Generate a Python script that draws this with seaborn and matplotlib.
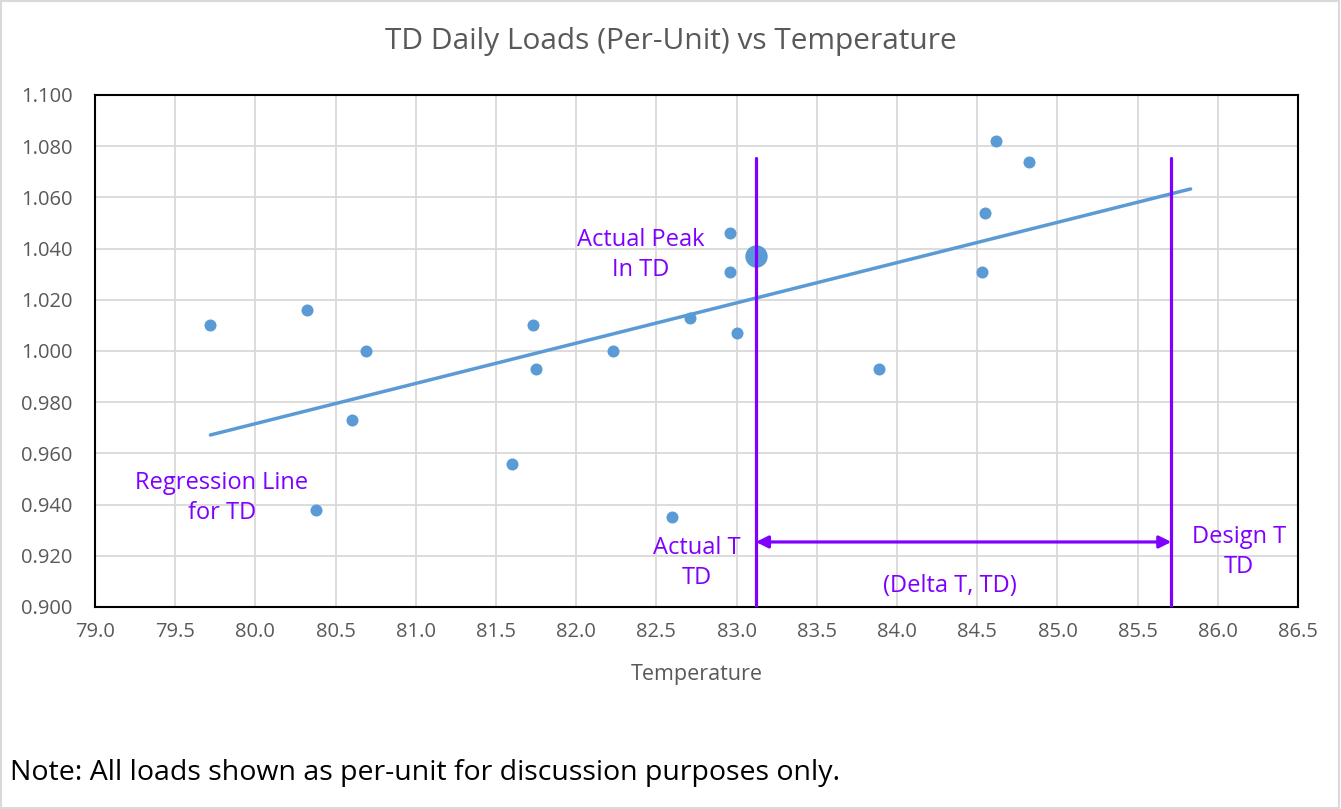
import matplotlib
matplotlib.use("Agg")
import matplotlib.pyplot as plt
import matplotlib.patches as mpatches
import pandas as pd
import seaborn as sns

# === Data ===
temps = [79.72, 80.32, 80.69, 80.60, 80.38, 81.60, 81.73, 81.75, 82.23, 82.60,
         82.71, 82.96, 82.96, 83.00, 83.89, 84.53, 84.55, 84.62, 84.82]
loads = [1.010, 1.016, 1.000, 0.973, 0.938, 0.956, 1.010, 0.993, 1.000, 0.935,
         1.013, 1.046, 1.031, 1.007, 0.993, 1.031, 1.054, 1.082, 1.074]

peak_temp = [83.12]
peak_load = [1.037]

reg_temp = [79.72, 85.83]
reg_load = [0.9672, 1.0633]

actual_t = 83.12
design_t = 85.71
vline_top = 1.0755
arrow_y = 0.9254

x_ticks = [79.0 + 0.5 * i for i in range(16)]
y_ticks = [0.900 + 0.020 * i for i in range(11)]

# === Style ===
sns.set_style("whitegrid")
plt.rcParams["font.family"] = ["Open Sans", "DejaVu Sans"]

BLUE = "#5B9BD5"
PURPLE = "#7F00FF"
GRAY = "#595959"

fig = plt.figure(figsize=(13.41, 8.09), dpi=100)
ax = fig.add_axes([0.0708, 0.2497, 0.8972, 0.6329])

df = pd.DataFrame({"Temperature": temps, "Load": loads})
df_reg = pd.DataFrame({"Temperature": reg_temp, "Load": reg_load})
df_peak = pd.DataFrame({"Temperature": peak_temp, "Load": peak_load})

sns.lineplot(data=df_reg, x="Temperature", y="Load", ax=ax, color=BLUE,
             linewidth=2.5, zorder=3)
sns.scatterplot(data=df, x="Temperature", y="Load", ax=ax, color=BLUE,
                s=75, linewidth=0, zorder=4)
sns.scatterplot(data=df_peak, x="Temperature", y="Load", ax=ax, color=BLUE,
                s=260, linewidth=0, zorder=4)

# vertical markers and delta arrow
ax.plot([actual_t, actual_t], [0.900, vline_top], color=PURPLE, lw=2.3, zorder=5)
ax.plot([design_t, design_t], [0.900, vline_top], color=PURPLE, lw=2.3, zorder=5)
ax.annotate("", xy=(actual_t, arrow_y), xytext=(design_t, arrow_y),
            arrowprops=dict(arrowstyle="<|-|>", color=PURPLE, lw=2.3,
                            mutation_scale=18, shrinkA=0, shrinkB=0), zorder=5)

txt = dict(color=PURPLE, fontsize=17, ha="center", va="center",
           linespacing=1.35, zorder=6)
ax.text(82.40, 1.0375, "Actual Peak\nIn TD", **txt)
ax.text(79.79, 0.9425, "Regression Line\nfor TD", **txt)
ax.text(82.75, 0.9172, "Actual T\nTD", **txt)
ax.text(84.33, 0.9082, "(Delta T, TD)", **txt)
ax.text(86.13, 0.9215, "Design T\nTD", **txt)

# axes formatting
ax.set_xlim(79.0, 86.5)
ax.set_ylim(0.900, 1.100)
ax.set_xticks(x_ticks)
ax.set_yticks(y_ticks)
ax.set_xticklabels([f"{v:.1f}" for v in x_ticks])
ax.set_yticklabels([f"{v:.3f}" for v in y_ticks])
ax.tick_params(axis="both", length=0, labelsize=14.5, labelcolor=GRAY)
ax.tick_params(axis="y", pad=16)
ax.tick_params(axis="x", pad=11)
ax.grid(True, color="#d9d9d9", linewidth=1.3)
for sp in ax.spines.values():
    sp.set_color("black")
    sp.set_linewidth(1.5)
ax.set_xlabel("Temperature", fontsize=15.5, color=GRAY, labelpad=16)
ax.set_ylabel("")

fig.text(0.5, 0.949, "TD Daily Loads (Per-Unit) vs Temperature",
         ha="center", va="center", fontsize=21.5, color=GRAY)
fig.text(0.0075, 0.044, "Note: All loads shown as per-unit for discussion purposes only.",
         ha="left", va="center", fontsize=20.5, color="black")

# light frame around the whole chart
fig.patches.append(mpatches.Rectangle((0.0008, 0.0012), 0.9975, 0.9975,
                                      transform=fig.transFigure, fill=False,
                                      edgecolor="#d9d9d9", linewidth=1.5))

fig.savefig("out.png", dpi=100)
